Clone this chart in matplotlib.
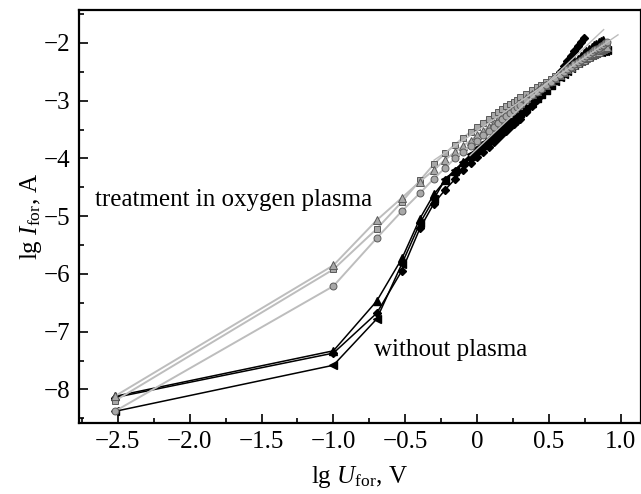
import numpy as np
import matplotlib
matplotlib.use("Agg")
import matplotlib.pyplot as plt
from matplotlib.ticker import MultipleLocator

plt.rcParams['font.family'] = ['Liberation Serif', 'DejaVu Serif']
plt.rcParams['mathtext.fontset'] = 'custom'
plt.rcParams['mathtext.rm'] = 'Liberation Serif'
plt.rcParams['mathtext.it'] = 'Liberation Serif:italic'

# forward voltage, V
u = [0.003, 0.1, 0.2, 0.3, 0.4, 0.5, 0.6, 0.7, 0.8, 0.9, 1.0, 1.1, 1.2, 1.3,
     1.4, 1.5, 1.6, 1.7, 1.8, 1.9, 2.0, 2.2, 2.4, 2.6, 2.8, 3.0, 3.25, 3.5,
     3.75, 4.0, 4.25, 4.5, 4.75, 5.0, 5.25, 5.5, 5.75, 6.0, 6.25, 6.5, 6.75,
     7.0, 7.25, 7.5, 7.75, 8.0]

# lg I, treated in oxygen plasma (grey)
ox_sq = [-8.20, -5.92, -5.22, -4.75, -4.38, -4.10, -3.91, -3.76, -3.64, -3.54,
         -3.45, -3.38, -3.31, -3.25, -3.20, -3.15, -3.10, -3.06, -3.02, -2.98,
         -2.94, -2.88, -2.82, -2.77, -2.72, -2.67, -2.62, -2.57, -2.53, -2.49,
         -2.455, -2.42, -2.385, -2.35, -2.32, -2.29, -2.26, -2.23, -2.20, -2.17,
         -2.145, -2.12, -2.095, -2.07, -2.045, -2.02]
ox_tri = [-8.12, -5.85, -5.07, -4.68, -4.40, -4.20, -4.02, -3.89, -3.78, -3.69,
          -3.60, -3.52, -3.45, -3.38, -3.32, -3.27, -3.22, -3.17, -3.12, -3.08,
          -3.04, -2.96, -2.89, -2.83, -2.77, -2.72, -2.66, -2.60, -2.55, -2.50,
          -2.46, -2.42, -2.385, -2.35, -2.32, -2.29, -2.265, -2.24, -2.215,
          -2.19, -2.17, -2.15, -2.13, -2.11, -2.09, -2.07]
ox_circ = [-8.38, -6.21, -5.38, -4.91, -4.60, -4.35, -4.16, -4.00, -3.88, -3.78,
           -3.69, -3.60, -3.52, -3.45, -3.38, -3.32, -3.26, -3.21, -3.16, -3.11,
           -3.07, -2.99, -2.91, -2.85, -2.79, -2.73, -2.67, -2.61, -2.55, -2.50,
           -2.455, -2.41, -2.37, -2.33, -2.295, -2.26, -2.225, -2.19, -2.16,
           -2.13, -2.105, -2.08, -2.055, -2.03, -2.005, -1.98]

# lg I, without plasma (black)
np_dia = [-8.14, -7.37, -6.68, -5.94, -5.21, -4.78, -4.54, -4.36, -4.20, -4.08,
          -3.97, -3.88, -3.80, -3.72, -3.65, -3.58, -3.52, -3.46, -3.41, -3.36,
          -3.31, -3.20, -3.09, -2.99, -2.90, -2.80, -2.70, -2.60, -2.50, -2.40,
          -2.31, -2.22, -2.14, -2.06, -1.99, -1.92]
np_up = [-8.12, -7.33, -6.47, -5.73, -5.04, -4.62, -4.38, -4.21, -4.07, -3.95,
         -3.85, -3.76, -3.68, -3.61, -3.54, -3.48, -3.42, -3.37, -3.32, -3.27,
         -3.22, -3.13, -3.04, -2.96, -2.88, -2.81, -2.73, -2.65, -2.58, -2.50,
         -2.44, -2.38, -2.32, -2.27, -2.22, -2.18, -2.14, -2.10, -2.07, -2.04,
         -2.015, -1.99, -1.97, -1.95]
np_left = [-8.38, -7.58, -6.78, -5.82, -5.12, -4.70, -4.36, -4.20, -4.06, -3.93,
           -3.82, -3.74, -3.66, -3.59, -3.53, -3.47, -3.41, -3.36, -3.31, -3.26,
           -3.21, -3.12, -3.03, -2.95, -2.88, -2.81, -2.73, -2.66, -2.59, -2.53,
           -2.48, -2.43, -2.39, -2.35, -2.31, -2.28, -2.25, -2.23, -2.21, -2.19,
           -2.175, -2.16, -2.15, -2.14, -2.135, -2.13]

# linear fits (end points)
fit1_x = [-0.30, 0.98]
fit1_y = [-4.03, -1.86]
fit2_x = [-0.05, 0.88]
fit2_y = [-3.95, -1.77]

lgu = np.log10(u)

fig = plt.figure(figsize=(6.41, 4.94), dpi=100)
ax = fig.add_axes([79/641, 71/494, 562/641, 413/494])

grey_line = '#bdbdbd'
grey_face = '#a8a8a8'
grey_edge = '#5a5a5a'

for y, m, s in [(np_dia, 'D', 4.5), (np_up, '^', 5.5), (np_left, '<', 5.5)]:
    ax.plot(lgu[:len(y)], y, color='black', lw=1.1, marker=m, ms=s,
            mfc='black', mec='black', zorder=2)

for y, m, s in [(ox_sq, 's', 5), (ox_tri, '^', 5.5), (ox_circ, 'o', 5)]:
    ax.plot(lgu[:len(y)], y, color=grey_line, lw=1.4, marker=m, ms=s,
            mfc=grey_face, mec=grey_edge, mew=0.7, zorder=3)

ax.plot(fit1_x, fit1_y, color=grey_line, lw=1.0, zorder=4)
ax.plot(fit2_x, fit2_y, color=grey_line, lw=1.0, zorder=4)

ax.text(-2.66, -4.72, 'treatment in oxygen plasma', fontsize=18,
        ha='left', va='center')
ax.text(-0.72, -7.32, 'without plasma', fontsize=18, ha='left', va='center')

ax.set_xlim(-2.77, 1.14)
ax.set_ylim(-8.58, -1.43)
ax.xaxis.set_major_locator(MultipleLocator(0.5))
ax.xaxis.set_minor_locator(MultipleLocator(0.25))
ax.yaxis.set_major_locator(MultipleLocator(1))
ax.yaxis.set_minor_locator(MultipleLocator(0.5))
ax.set_xticks([-2.5, -2.0, -1.5, -1.0, -0.5, 0, 0.5, 1.0])
ax.set_xticklabels(['\u22122.5', '\u22122.0', '\u22121.5', '\u22121.0',
                    '\u22120.5', '0', '0.5', '1.0'])
ax.tick_params(which='both', direction='in', labelsize=18, width=1.2,
               top=False, right=False)
ax.tick_params(which='major', length=6.5, pad=6)
ax.tick_params(which='minor', length=3.5)
for sp in ax.spines.values():
    sp.set_linewidth(1.6)

ax.set_xlabel(r'lg $U_{\mathrm{for}}$, V', fontsize=18, labelpad=8)
ax.set_ylabel(r'lg $I_{\mathrm{for}}$, A', fontsize=18, labelpad=0)

fig.savefig('out.png', dpi=100)
